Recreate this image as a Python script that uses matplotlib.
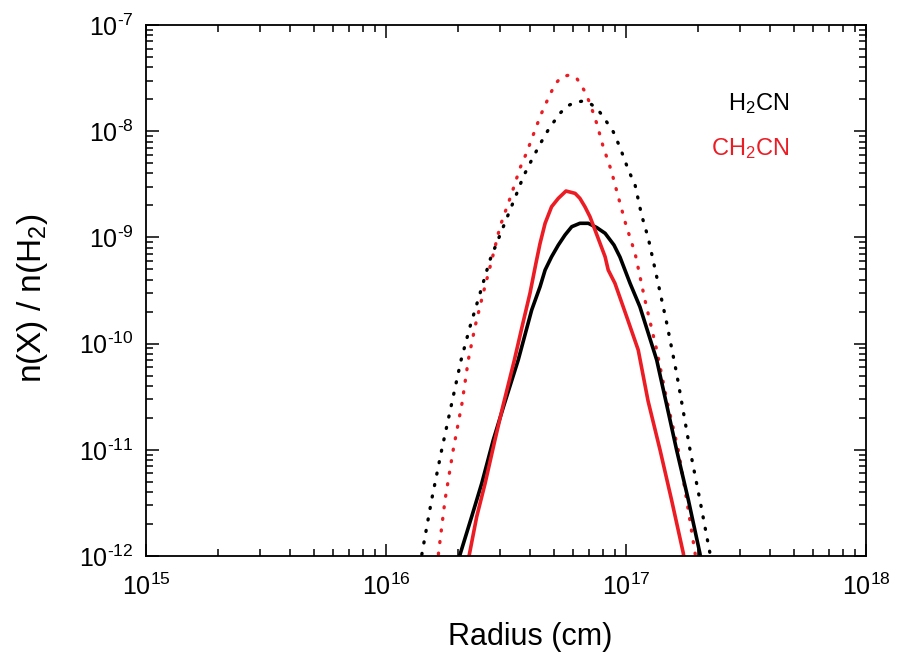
import numpy as np
import matplotlib.pyplot as plt
from matplotlib.ticker import NullFormatter, FuncFormatter

plt.rcParams['font.family'] = ['Liberation Sans', 'DejaVu Sans']
plt.rcParams['mathtext.fontset'] = 'custom'
plt.rcParams['mathtext.rm'] = 'Liberation Sans'
plt.rcParams['mathtext.it'] = 'Liberation Sans:italic'
plt.rcParams['mathtext.default'] = 'regular'
plt.rcParams['axes.unicode_minus'] = False

# log10(radius / cm) and log10(n(X)/n(H2))
h2cn_dot_lx = [16.130, 16.149, 16.190, 16.232, 16.274, 16.313, 16.350, 16.392, 16.433, 16.461,
               16.489, 16.517, 16.545, 16.572, 16.607, 16.642, 16.679, 16.725, 16.755, 16.788,
               16.820, 16.850, 16.882, 16.905, 16.947, 16.975, 17.010, 17.038, 17.065, 17.093,
               17.128, 17.170, 17.211, 17.267, 17.308, 17.350, 17.370]
h2cn_dot_ly = [-12.2, -11.990, -11.473, -11.002, -10.562, -10.154, -9.841, -9.526, -9.213, -9.056,
               -8.899, -8.742, -8.585, -8.428, -8.271, -8.121, -7.976, -7.831, -7.763, -7.728,
               -7.716, -7.737, -7.794, -7.863, -8.005, -8.152, -8.365, -8.507, -8.789, -9.008,
               -9.370, -9.809, -10.280, -11.002, -11.473, -11.975, -12.2]

ch2cn_dot_lx = [16.205, 16.218, 16.246, 16.280, 16.317, 16.343, 16.371, 16.405, 16.441, 16.475,
                16.524, 16.558, 16.586, 16.621, 16.646, 16.674, 16.704, 16.732, 16.764, 16.795,
                16.815, 16.833, 16.857, 16.878, 16.905, 16.938, 16.964, 17.000, 17.038, 17.079,
                17.128, 17.170, 17.218, 17.253, 17.288, 17.300]
ch2cn_dot_ly = [-12.2, -11.990, -11.473, -11.002, -10.559, -10.154, -9.841, -9.526, -9.213, -8.899,
                -8.585, -8.349, -8.202, -7.989, -7.841, -7.700, -7.558, -7.487, -7.471, -7.502,
                -7.574, -7.643, -7.784, -7.926, -8.146, -8.365, -8.585, -8.883, -9.150, -9.589,
                -10.060, -10.531, -11.002, -11.473, -11.975, -12.2]

h2cn_lx = [16.290, 16.308, 16.357, 16.399, 16.447, 16.493, 16.551, 16.607, 16.642, 16.663,
           16.690, 16.718, 16.746, 16.774, 16.808, 16.843, 16.878, 16.913, 16.950, 16.975,
           17.017, 17.058, 17.093, 17.128, 17.167, 17.211, 17.260, 17.308, 17.322]
h2cn_ly = [-12.2, -11.990, -11.630, -11.316, -10.908, -10.569, -10.154, -9.684, -9.464, -9.307,
           -9.182, -9.072, -8.977, -8.899, -8.867, -8.867, -8.907, -8.961, -9.072, -9.185,
           -9.432, -9.653, -9.903, -10.154, -10.550, -11.002, -11.473, -11.975, -12.2]

ch2cn_lx = [16.335, 16.347, 16.378, 16.413, 16.454, 16.486, 16.535, 16.567, 16.600, 16.625,
            16.642, 16.663, 16.690, 16.718, 16.750, 16.788, 16.808, 16.829, 16.850, 16.871,
            16.892, 16.913, 16.926, 16.954, 17.003, 17.051, 17.092, 17.142, 17.190, 17.239, 17.252]
ch2cn_ly = [-12.2, -11.990, -11.630, -11.316, -10.908, -10.600, -10.154, -9.841, -9.526, -9.241,
            -9.056, -8.867, -8.711, -8.632, -8.563, -8.585, -8.632, -8.711, -8.805, -8.930,
            -9.056, -9.182, -9.307, -9.432, -9.747, -10.060, -10.540, -11.002, -11.473, -11.975, -12.2]

red = '#ec1c24'


def pow10(v, pos):
    e = int(round(np.log10(v)))
    if e < 0:
        return r'$10^{\text{-}%d}$' % (-e)
    return r'$10^{%d}$' % e


fig = plt.figure(figsize=(9, 6.59), dpi=100)
ax = fig.add_axes([0.1622, 0.1563, 0.8, 0.8057])

dots = (0, (0.3, 3.2))
ax.plot(10 ** np.array(h2cn_dot_lx), 10 ** np.array(h2cn_dot_ly), color='black', lw=2.4,
        linestyle=dots, dash_capstyle='round')
ax.plot(10 ** np.array(ch2cn_dot_lx), 10 ** np.array(ch2cn_dot_ly), color=red, lw=2.4,
        linestyle=dots, dash_capstyle='round')
ax.plot(10 ** np.array(h2cn_lx), 10 ** np.array(h2cn_ly), color='black', lw=2.6)
ax.plot(10 ** np.array(ch2cn_lx), 10 ** np.array(ch2cn_ly), color=red, lw=2.6)

ax.set_xscale('log')
ax.set_yscale('log')
ax.set_xlim(1e15, 1e18)
ax.set_ylim(1e-12, 1e-7)
ax.xaxis.set_major_formatter(FuncFormatter(pow10))
ax.yaxis.set_major_formatter(FuncFormatter(pow10))
ax.xaxis.set_minor_formatter(NullFormatter())
ax.yaxis.set_minor_formatter(NullFormatter())

ax.tick_params(which='both', direction='in', top=True, right=True, width=1.1)
ax.tick_params(which='major', length=9, labelsize=18)
ax.tick_params(axis='x', which='major', pad=13)
ax.tick_params(axis='y', which='major', pad=9)
ax.tick_params(which='minor', length=5)
for s in ax.spines.values():
    s.set_linewidth(1.3)

ax.set_xlabel('Radius (cm)', fontsize=22)
ax.set_ylabel('n(X) / n(H$_2$)', fontsize=24)
ax.xaxis.set_label_coords(0.533, -0.125)
ax.yaxis.set_label_coords(-0.133, 0.486)

ax.text(0.894, 0.840, 'H$_2$CN', transform=ax.transAxes, fontsize=17, color='black',
        ha='right', va='baseline')
ax.text(0.894, 0.755, 'CH$_2$CN', transform=ax.transAxes, fontsize=17, color=red,
        ha='right', va='baseline')

plt.savefig('out.png', dpi=100)
